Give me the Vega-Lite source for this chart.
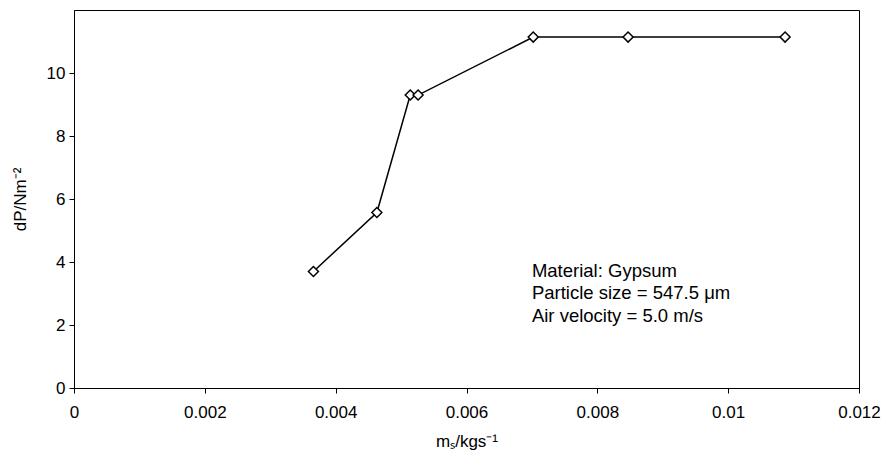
{
  "$schema": "https://vega.github.io/schema/vega-lite/v6.json",
  "width": 785,
  "height": 378,
  "autosize": "none",
  "padding": {"left": 74, "top": 10, "right": 24, "bottom": 69},
  "background": "white",
  "config": {
    "view": {"stroke": "black", "strokeWidth": 1},
    "font": "Liberation Sans",
    "axis": {
      "grid": false,
      "domainColor": "black",
      "tickColor": "black",
      "labelColor": "black",
      "titleColor": "black",
      "labelFont": "Liberation Sans",
      "titleFont": "Liberation Sans",
      "labelFontSize": 17,
      "titleFontSize": 17,
      "titleFontWeight": "normal",
      "tickSize": 5,
      "domainWidth": 1,
      "tickWidth": 1
    }
  },
  "datasets": {
    "points": [
      {"ms": 0.00366, "dp": 3.70},
      {"ms": 0.00463, "dp": 5.57},
      {"ms": 0.00514, "dp": 9.30},
      {"ms": 0.00526, "dp": 9.30},
      {"ms": 0.00702, "dp": 11.14},
      {"ms": 0.00847, "dp": 11.14},
      {"ms": 0.01087, "dp": 11.14}
    ],
    "notes": [
      {"ms": 0.0070, "dp": 3.51, "label": "Material: Gypsum"},
      {"ms": 0.0070, "dp": 2.81, "label": "Particle size = 547.5 μm"},
      {"ms": 0.0070, "dp": 2.11, "label": "Air velocity = 5.0 m/s"}
    ]
  },
  "layer": [
    {
      "data": {"name": "points"},
      "mark": {"type": "line", "color": "black", "strokeWidth": 1.5},
      "encoding": {
        "x": {
          "field": "ms", "type": "quantitative",
          "scale": {"domain": [0, 0.012], "nice": false, "zero": true},
          "axis": {
            "title": "mₛ/kgs⁻¹",
            "values": [0, 0.002, 0.004, 0.006, 0.008, 0.01, 0.012],
            "labelExpr": "datum.value == 0 ? '0' : format(datum.value, '~g')",
            "labelPadding": 11,
            "titlePadding": 13,
            "labelFlush": false,
            "labelOverlap": false
          }
        },
        "y": {
          "field": "dp", "type": "quantitative",
          "scale": {"domain": [0, 12], "nice": false},
          "axis": {
            "title": "dP/Nm⁻²",
            "values": [0, 2, 4, 6, 8, 10],
            "labelPadding": 4,
            "titlePadding": 17,
            "labelFlush": false
          }
        }
      }
    },
    {
      "data": {"name": "points"},
      "mark": {"type": "point", "shape": "diamond", "size": 100, "filled": true, "fill": "white", "stroke": "black", "strokeWidth": 1.5, "opacity": 1},
      "encoding": {
        "x": {"field": "ms", "type": "quantitative"},
        "y": {"field": "dp", "type": "quantitative"}
      }
    },
    {
      "data": {"name": "notes"},
      "mark": {"type": "text", "align": "left", "baseline": "alphabetic", "fontSize": 18.5, "font": "Liberation Sans", "color": "black"},
      "encoding": {
        "x": {"field": "ms", "type": "quantitative"},
        "y": {"field": "dp", "type": "quantitative"},
        "text": {"field": "label"}
      }
    }
  ]
}
